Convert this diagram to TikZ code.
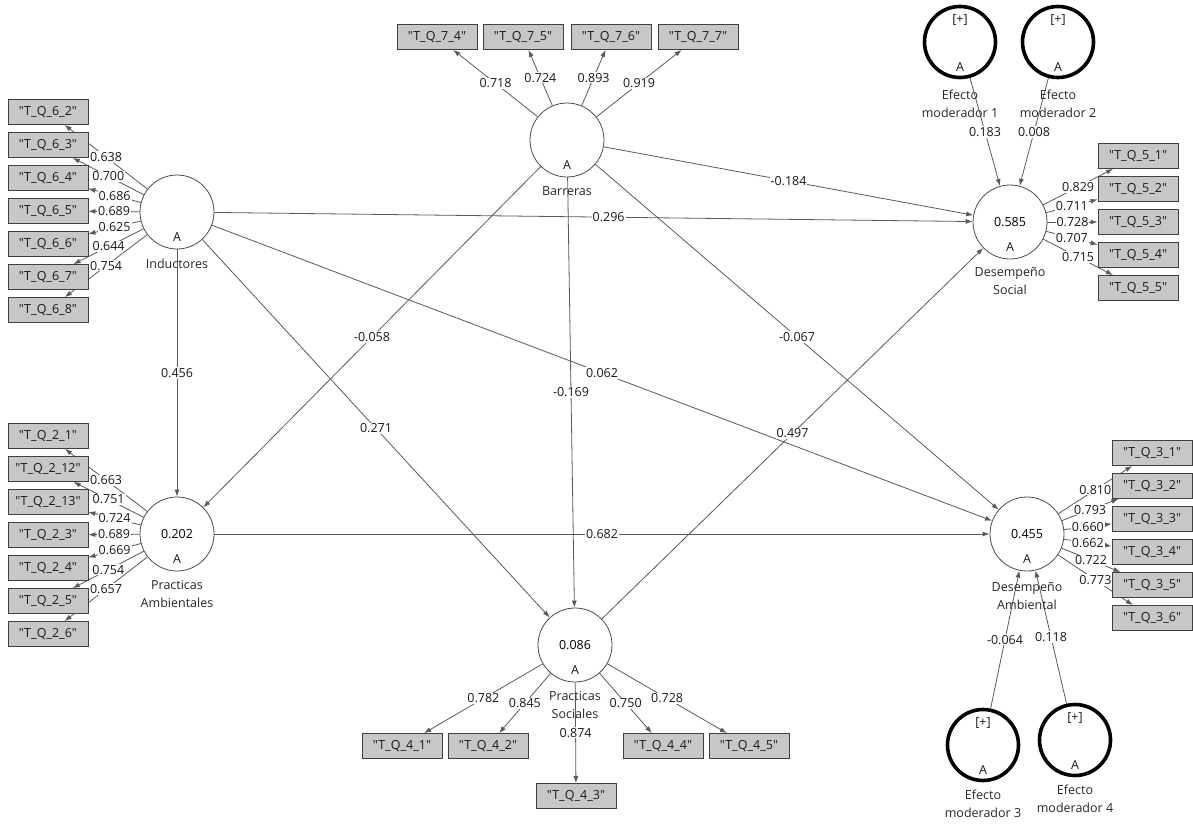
\documentclass[tikz,border=0pt]{standalone}
\usepackage{fontspec}
\newfontfamily\plsfont{Open Sans}
\usetikzlibrary{positioning,arrows.meta,backgrounds}
\tikzset{
	lvnode/.style={circle, draw=black!70, line width=0.8pt, minimum size=74pt, inner sep=0pt},
	modnode/.style={circle, draw=black, line width=3.6pt, minimum size=71pt, inner sep=0pt},
	mvbox/.style={rectangle, draw=black!75, fill=black!22, line width=0.8pt, minimum width=80pt, minimum height=25pt, inner sep=0pt, text=black!90},
	namenode/.style={align=center, inner sep=1pt, text=black!85},
	tagnode/.style={inner sep=0pt, text=black!90},
	coef/.style={fill=white, inner sep=1pt, text=black!90},
	path/.style={draw=black!65, line width=0.8pt, -{Latex[length=7pt,width=5pt]}}
}
\begin{document}
\begin{tikzpicture}[x=1pt, y=-1pt, font=\plsfont\fontsize{12.5}{18}\selectfont]
	\useasboundingbox (0,0) rectangle (1193,824);
	
	\node[lvnode] at (177,212) (indu) {};
	\node[lvnode] at (567,140) (barr) {};
	\node[lvnode] at (1010,222) (dsoc) {0.585};
	\node[lvnode] at (177,534) (pamb) {0.202};
	\node[lvnode] at (575,645) (psoc) {0.086};
	\node[lvnode] at (1027,534) (damb) {0.455};
	\node[modnode] at (960,42) (mod1) {};
	\node[modnode] at (1058,42) (mod2) {};
	\node[modnode] at (983,745) (mod3) {};
	\node[modnode] at (1075,740) (mod4) {};
	
	\foreach \v in {indu,barr,dsoc,pamb,psoc,damb,mod1,mod2,mod3,mod4}
		\node[tagnode] at ([yshift=-25pt]\v.center) (\v-a) {A};
	\foreach \v in {mod1,mod2,mod3,mod4}
		\node[tagnode] at ([yshift=22pt]\v.center) (\v-p) {[+]};
	
	\node[namenode, below=8pt of indu] (indu-n) {Inductores};
	\node[namenode, below=8pt of barr] (barr-n) {Barreras};
	\node[namenode, below=7pt of dsoc] (dsoc-n) {Desempeño\\Social};
	\node[namenode, below=8pt of pamb] (pamb-n) {Practicas\\Ambientales};
	\node[namenode, below=8pt of psoc] (psoc-n) {Practicas\\Sociales};
	\node[namenode, below=10pt of damb] (damb-n) {Desempeño\\Ambiental};
	\node[namenode, below=9pt of mod1] (mod1-n) {Efecto\\moderador 1};
	\node[namenode, below=9pt of mod2] (mod2-n) {Efecto\\moderador 2};
	\node[namenode, below=6pt of mod3] (mod3-n) {Efecto\\moderador 3};
	\node[namenode, below=6pt of mod4] (mod4-n) {Efecto\\moderador 4};
	
	%Indicators
	\foreach \n [count=\k from 0] in {2,3,4,5,6,7,8}
		\node[mvbox] at (48,112+33*\k) (q6-\n) {"T\_Q\_6\_\n"};
	\foreach \n/\x in {4/437,5/523,6/611,7/698}
		\node[mvbox] at (\x,37) (q7-\n) {"T\_Q\_7\_\n"};
	\foreach \n [count=\k from 0] in {1,2,3,4,5}
		\node[mvbox] at (1138,156+33*\k) (q5-\n) {"T\_Q\_5\_\n"};
	\foreach \n [count=\k from 0] in {1,12,13,3,4,5,6}
		\node[mvbox] at (48,436+33*\k) (q2-\n) {"T\_Q\_2\_\n"};
	\foreach \n/\x/\y in {1/402/746,2/488/746,3/576/796,4/663/746,5/749/746}
		\node[mvbox] at (\x,\y) (q4-\n) {"T\_Q\_4\_\n"};
	\foreach \n [count=\k from 0] in {1,2,3,4,5,6}
		\node[mvbox] at (1152,453+33*\k) (q3-\n) {"T\_Q\_3\_\n"};
	
	%Lines
	\begin{scope}[on background layer]
		\foreach \n/\l in {2/0.638,3/0.700,4/0.686,5/0.689,6/0.625,7/0.644,8/0.754}
			\draw[path] (indu) -- node[coef] {\l} (q6-\n);
		\foreach \n/\l in {4/0.718,5/0.724,6/0.893,7/0.919}
			\draw[path] (barr) -- node[coef] {\l} (q7-\n);
		\foreach \n/\l in {1/0.829,2/0.711,3/0.728,4/0.707,5/0.715}
			\draw[path] (dsoc) -- node[coef] {\l} (q5-\n);
		\foreach \n/\l in {1/0.663,12/0.751,13/0.724,3/0.689,4/0.669,5/0.754,6/0.657}
			\draw[path] (pamb) -- node[coef] {\l} (q2-\n);
		\foreach \n/\l in {1/0.782,2/0.845,3/0.874,4/0.750,5/0.728}
			\draw[path] (psoc) -- node[coef] {\l} (q4-\n);
		\foreach \n/\l in {1/0.810,2/0.793,3/0.660,4/0.662,5/0.722,6/0.773}
			\draw[path] (damb) -- node[coef] {\l} (q3-\n);
		
		\draw[path] (indu) -- node[coef] {0.456} (pamb);
		\draw[path] (barr) -- node[coef] {-0.058} (pamb);
		\draw[path] (indu) -- node[coef, pos=0.52] {0.296} (dsoc);
		\draw[path] (barr) -- node[coef] {-0.184} (dsoc);
		\draw[path] (indu) -- node[coef] {0.271} (psoc);
		\draw[path] (barr) -- node[coef] {-0.169} (psoc);
		\draw[path] (indu) -- node[coef] {0.062} (damb);
		\draw[path] (barr) -- node[coef] {-0.067} (damb);
		\draw[path] (psoc) -- node[coef] {0.497} (dsoc);
		\draw[path] (pamb) -- node[coef] {0.682} (damb);
		\draw[path] (mod1) -- node[coef] {0.183} (dsoc);
		\draw[path] (mod2) -- node[coef] {0.008} (dsoc);
		\draw[path] (mod3) -- node[coef] {-0.064} (damb);
		\draw[path] (mod4) -- node[coef] {0.118} (damb);
	\end{scope}
\end{tikzpicture}
\end{document}
